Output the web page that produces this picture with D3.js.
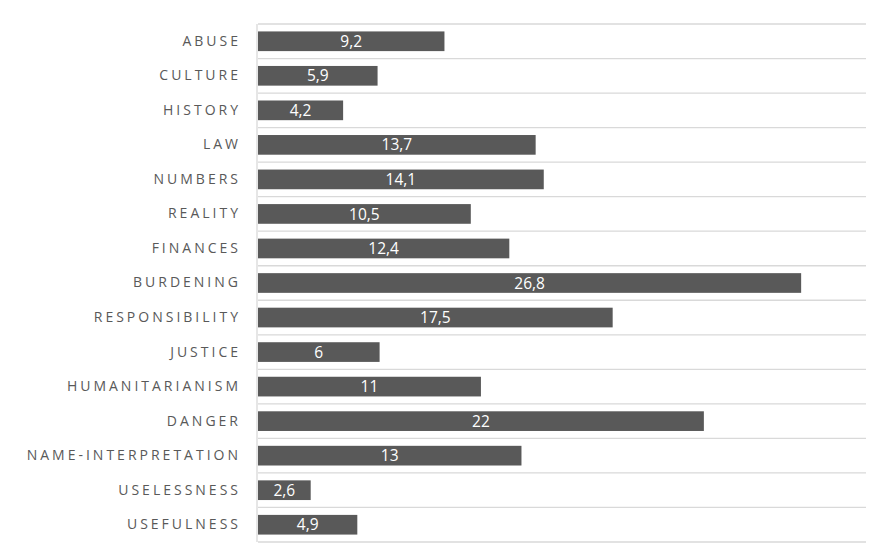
<!DOCTYPE html>
<html>
<head>
<meta charset="utf-8">
<script src="https://cdn.jsdelivr.net/npm/d3@7"></script>
<style>
  body { margin: 0; background: #fff; }
</style>
</head>
<body>
<div id="chart"></div>
<script>
const categories = ["ABUSE", "CULTURE", "HISTORY", "LAW", "NUMBERS", "REALITY", "FINANCES",
    "BURDENING", "RESPONSIBILITY", "JUSTICE", "HUMANITARIANISM", "DANGER",
    "NAME-INTERPRETATION", "USELESSNESS", "USEFULNESS"];
const values = [9.2, 5.9, 4.2, 13.7, 14.1, 10.5, 12.4, 26.8, 17.5, 6, 11, 22, 13, 2.6, 4.9];
const xMax = 30;

const width = 869, height = 559;
const margin = { top: 24, right: 3, bottom: 17, left: 258 };

const data = categories.map((c, i) => ({ category: c, value: values[i] }));

const svg = d3.select("#chart")
    .append("svg")
    .attr("width", width)
    .attr("height", height);

const x = d3.scaleLinear()
    .domain([0, xMax])
    .range([margin.left, width - margin.right]);

const y = d3.scaleBand()
    .domain(categories)
    .range([margin.top, height - margin.bottom])
    .paddingInner(0.43)
    .paddingOuter(0.215);

const step = y.step();

// row separators
const bounds = d3.range(categories.length + 1).map(i => margin.top + i * step);
svg.append("g")
    .selectAll("line")
    .data(bounds)
    .join("line")
    .attr("x1", margin.left)
    .attr("x2", width - margin.right)
    .attr("y1", d => d)
    .attr("y2", d => d)
    .attr("stroke", "#d9d9d9")
    .attr("stroke-width", 1.3);

// left axis line
svg.append("line")
    .attr("x1", margin.left - 1)
    .attr("x2", margin.left - 1)
    .attr("y1", margin.top)
    .attr("y2", height - margin.bottom)
    .attr("stroke", "#d9d9d9")
    .attr("stroke-width", 1.3);

svg.append("g")
    .selectAll("rect")
    .data(data)
    .join("rect")
    .attr("x", x(0))
    .attr("y", d => y(d.category))
    .attr("width", d => x(d.value) - x(0))
    .attr("height", y.bandwidth())
    .attr("fill", "#595959");

// value labels
svg.append("g")
    .selectAll("text")
    .data(data)
    .join("text")
    .attr("x", d => (x(0) + x(d.value)) / 2)
    .attr("y", d => y(d.category) + y.bandwidth() / 2)
    .attr("dy", "0.36em")
    .attr("text-anchor", "middle")
    .attr("fill", "#ffffff")
    .style("font-family", "'Open Sans', sans-serif")
    .style("font-size", "15.5px")
    .text(d => String(d.value).replace(".", ","));

// category labels
const yAxis = d3.axisLeft(y).tickSize(0).tickPadding(0);
const ax = svg.append("g")
    .attr("transform", "translate(" + (margin.left - 17) + ",0)")
    .call(yAxis);
ax.select(".domain").remove();
ax.selectAll("text")
    .attr("fill", "#595959")
    .style("font-family", "'Open Sans', sans-serif")
    .style("font-size", "14px")
    .style("letter-spacing", "3px");
</script>
</body>
</html>
